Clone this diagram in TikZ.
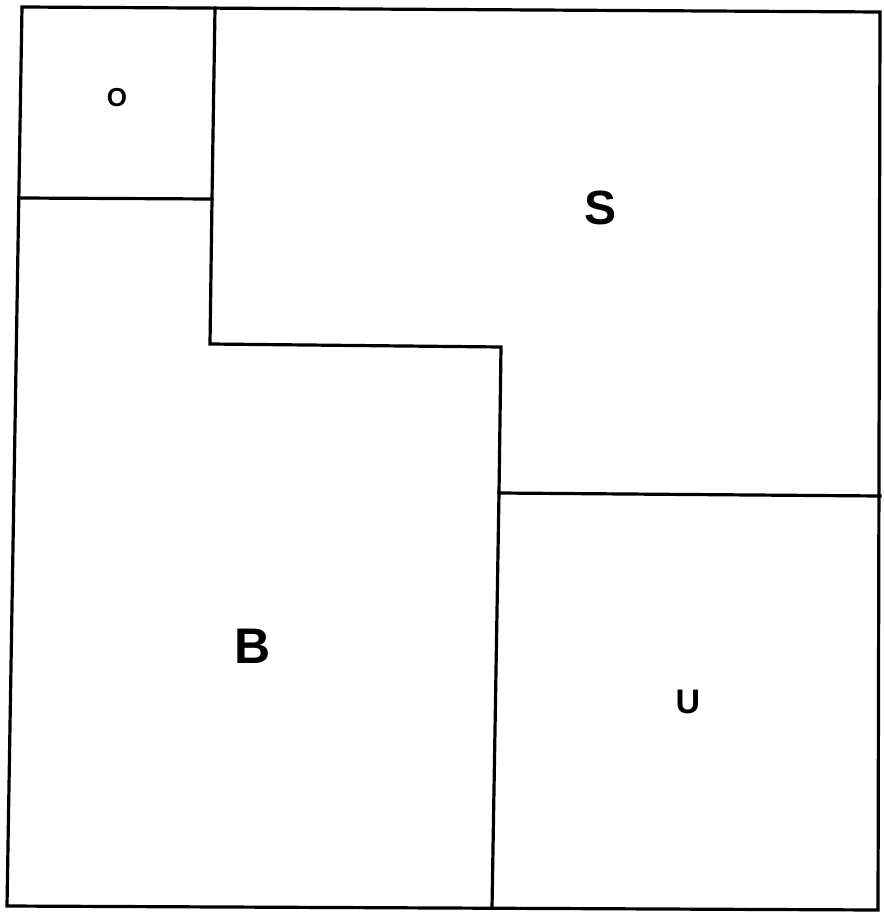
\documentclass[tikz,border=0pt]{standalone}
\usepackage{fontspec}
\setmainfont{Liberation Sans}
\begin{document}
\begin{tikzpicture}[x=1pt,y=-1pt,
  wall/.style={draw=black,line width=3.2pt,line join=miter,line cap=rect},
  lbl/.style={inner sep=0pt}]
\useasboundingbox (0,0) rectangle (883,912);
% outer corners
\coordinate (tl) at (22,7);
\coordinate (tr) at (880,12);
\coordinate (br) at (878,910);
\coordinate (bl) at (7,906);
% internal points
\coordinate (otop) at (215,8);
\coordinate (oleft) at (20,198);
\coordinate (oright) at (212,199);
\coordinate (step1) at (210,344);
\coordinate (step2) at (501,347);
\coordinate (ujoin) at (499,493);
\coordinate (uright) at (880,496);
\coordinate (bmid) at (492,908);
\draw[wall] (tl) -- (tr) -- (br) -- (bl) -- cycle;
\draw[wall] (otop) -- (oright) -- (step1) -- (step2) -- (ujoin) -- (bmid);
\draw[wall] (oleft) -- (oright);
\draw[wall] (ujoin) -- (uright);
\node[lbl,font=\bfseries\fontsize{26}{28}\selectfont] (o) at (117,98) {O};
\node[lbl,font=\bfseries\fontsize{48}{52}\selectfont] (s) at (600,208) {S};
\node[lbl,font=\bfseries\fontsize{50}{54}\selectfont] (b) at (253,646) {B};
\node[lbl,font=\bfseries\fontsize{34}{36}\selectfont] (u) at (688,702) {U};
\end{tikzpicture}
\end{document}
